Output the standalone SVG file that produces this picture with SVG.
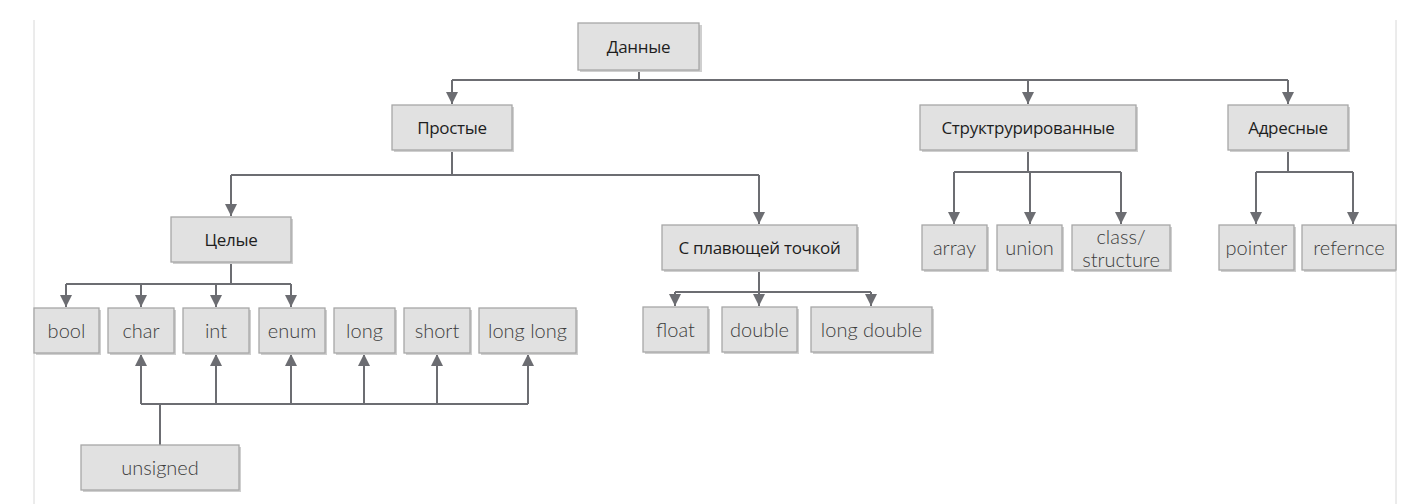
<svg xmlns="http://www.w3.org/2000/svg" width="1402" height="504" viewBox="0 0 1402 504">
<style>
.box{fill:#e1e1e1;stroke:#a7a7a7;stroke-width:1.3}
.sh{fill:#cfcfcf}
.t1{font-family:"Open Sans","Liberation Sans",sans-serif;font-size:17px;fill:#1e1e1e;text-anchor:middle;dominant-baseline:central;letter-spacing:-0.3px}
.t2{font-family:"Lato","Open Sans","Liberation Sans",sans-serif;font-weight:300;font-size:20px;fill:#3c3c3c;text-anchor:middle;dominant-baseline:central}
.c{fill:none;stroke:#6c6d72;stroke-width:2}
</style>
<defs>
<marker id="ah" markerUnits="userSpaceOnUse" markerWidth="14" markerHeight="14" viewBox="0 0 14 14" refX="12" refY="7" orient="auto">
<path d="M0,1 L12,7 L0,13 Z" fill="#6c6d72"/>
</marker>
</defs>
<rect width="1402" height="504" fill="#fff"/>
<line x1="34" y1="20" x2="34" y2="504" stroke="#d8d8d8" stroke-width="1"/>
<line x1="1396" y1="20" x2="1396" y2="504" stroke="#d8d8d8" stroke-width="1"/>
<g id="connectors">
<path class="c" d="M639,70 V80 M452,80 H1288"/>
<path class="c" d="M452,80 V104" marker-end="url(#ah)"/>
<path class="c" d="M1028,80 V104" marker-end="url(#ah)"/>
<path class="c" d="M1288,80 V104" marker-end="url(#ah)"/>
<path class="c" d="M452,150 V175 M231,175 H759"/>
<path class="c" d="M231,175 V216" marker-end="url(#ah)"/>
<path class="c" d="M759,175 V224" marker-end="url(#ah)"/>
<path class="c" d="M231,262 V284 M66,284 H291"/>
<path class="c" d="M66,284 V307" marker-end="url(#ah)"/>
<path class="c" d="M141,284 V307" marker-end="url(#ah)"/>
<path class="c" d="M216,284 V307" marker-end="url(#ah)"/>
<path class="c" d="M291,284 V307" marker-end="url(#ah)"/>
<path class="c" d="M160,445 V404 M141,404 H528"/>
<path class="c" d="M141,404 V354" marker-end="url(#ah)"/>
<path class="c" d="M216,404 V354" marker-end="url(#ah)"/>
<path class="c" d="M291,404 V354" marker-end="url(#ah)"/>
<path class="c" d="M364,404 V354" marker-end="url(#ah)"/>
<path class="c" d="M437,404 V354" marker-end="url(#ah)"/>
<path class="c" d="M528,404 V354" marker-end="url(#ah)"/>
<path class="c" d="M759,270 V292 M675,292 H871"/>
<path class="c" d="M675,292 V306" marker-end="url(#ah)"/>
<path class="c" d="M759,292 V306" marker-end="url(#ah)"/>
<path class="c" d="M871,292 V306" marker-end="url(#ah)"/>
<path class="c" d="M1028,150 V172 M954,172 H1121"/>
<path class="c" d="M954,172 V224" marker-end="url(#ah)"/>
<path class="c" d="M1030,172 V224" marker-end="url(#ah)"/>
<path class="c" d="M1121,172 V224" marker-end="url(#ah)"/>
<path class="c" d="M1288,150 V172 M1256,172 H1353"/>
<path class="c" d="M1256,172 V224" marker-end="url(#ah)"/>
<path class="c" d="M1353,172 V224" marker-end="url(#ah)"/>
</g>
<g id="n-dannye"><rect class="sh" x="580" y="25" width="122" height="47"/><rect class="box" x="578" y="23" width="121" height="47"/><text class="t1" x="638.5" y="46">Данные</text></g>
<g id="n-prostye"><rect class="sh" x="394" y="107" width="120" height="45"/><rect class="box" x="392" y="105" width="120" height="45"/><text class="t1" x="452" y="127">Простые</text></g>
<g id="n-struct"><rect class="sh" x="922" y="107" width="216" height="45"/><rect class="box" x="920" y="105" width="216" height="45"/><text class="t1" x="1028" y="127">Структрурированные</text></g>
<g id="n-adres"><rect class="sh" x="1230" y="107" width="120" height="45"/><rect class="box" x="1228" y="105" width="120" height="45"/><text class="t1" x="1288" y="127">Адресные</text></g>
<g id="n-celye"><rect class="sh" x="173" y="219" width="120" height="45"/><rect class="box" x="171" y="217" width="120" height="45"/><text class="t1" x="231" y="239">Целые</text></g>
<g id="n-float-cat"><rect class="sh" x="664" y="227" width="195" height="45"/><rect class="box" x="662" y="225" width="195" height="45"/><text class="t1" x="759.5" y="247">С плавющей точкой</text></g>
<g id="n-bool"><rect class="sh" x="36" y="310" width="65" height="45"/><rect class="box" x="34" y="308" width="65" height="45"/><text class="t2" x="66.5" y="330">bool</text></g>
<g id="n-char"><rect class="sh" x="110" y="310" width="66" height="45"/><rect class="box" x="108" y="308" width="66" height="45"/><text class="t2" x="141" y="330">char</text></g>
<g id="n-int"><rect class="sh" x="185" y="310" width="66" height="45"/><rect class="box" x="183" y="308" width="66" height="45"/><text class="t2" x="216" y="330">int</text></g>
<g id="n-enum"><rect class="sh" x="261" y="310" width="66" height="45"/><rect class="box" x="259" y="308" width="66" height="45"/><text class="t2" x="292" y="330">enum</text></g>
<g id="n-long"><rect class="sh" x="336" y="310" width="61" height="45"/><rect class="box" x="334" y="308" width="61" height="45"/><text class="t2" x="364.5" y="330">long</text></g>
<g id="n-short"><rect class="sh" x="406" y="310" width="66" height="45"/><rect class="box" x="404" y="308" width="66" height="45"/><text class="t2" x="437" y="330">short</text></g>
<g id="n-longlong"><rect class="sh" x="481" y="310" width="97" height="45"/><rect class="box" x="479" y="308" width="97" height="45"/><text class="t2" x="527.5" y="330">long long</text></g>
<g id="n-unsigned"><rect class="sh" x="83" y="447" width="158" height="45"/><rect class="box" x="81" y="445" width="158" height="45"/><text class="t2" x="160" y="467">unsigned</text></g>
<g id="n-float"><rect class="sh" x="645" y="309" width="65" height="45"/><rect class="box" x="643" y="307" width="65" height="45"/><text class="t2" x="675.5" y="329">float</text></g>
<g id="n-double"><rect class="sh" x="724" y="309" width="75" height="45"/><rect class="box" x="722" y="307" width="75" height="45"/><text class="t2" x="759.5" y="329">double</text></g>
<g id="n-longdouble"><rect class="sh" x="813" y="309" width="121" height="45"/><rect class="box" x="811" y="307" width="121" height="45"/><text class="t2" x="871.5" y="329">long double</text></g>
<g id="n-array"><rect class="sh" x="924" y="227" width="65" height="45"/><rect class="box" x="922" y="225" width="65" height="45"/><text class="t2" x="954.5" y="247">array</text></g>
<g id="n-union"><rect class="sh" x="999" y="227" width="65" height="45"/><rect class="box" x="997" y="225" width="65" height="45"/><text class="t2" x="1029.5" y="247">union</text></g>
<g id="n-class"><rect class="sh" x="1074" y="227" width="98" height="45"/><rect class="box" x="1072" y="225" width="98" height="45"/><text class="t2" x="1121" y="236">class/</text><text class="t2" x="1121" y="259">structure</text></g>
<g id="n-pointer"><rect class="sh" x="1221" y="227" width="75" height="45"/><rect class="box" x="1219" y="225" width="75" height="45"/><text class="t2" x="1256.5" y="247">pointer</text></g>
<g id="n-refernce"><rect class="sh" x="1304" y="227" width="92" height="45"/><rect class="box" x="1302" y="225" width="94" height="45"/><text class="t2" x="1349" y="247">refernce</text></g>
</svg>
